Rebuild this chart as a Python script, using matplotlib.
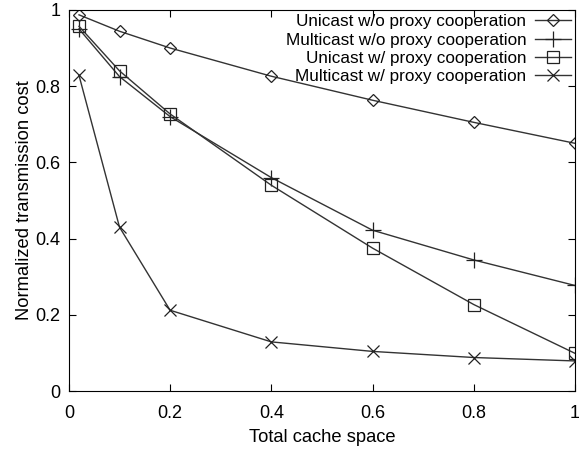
import matplotlib
matplotlib.use('Agg')
import matplotlib.pyplot as plt

plt.rcParams['font.family'] = ['Liberation Sans', 'DejaVu Sans']

cache_space = [0.02, 0.1, 0.2, 0.4, 0.6, 0.8, 1.0]
unicast_wo = [0.987, 0.944, 0.900, 0.826, 0.763, 0.705, 0.650]
multicast_wo = [0.950, 0.825, 0.720, 0.560, 0.422, 0.344, 0.277]
unicast_w = [0.957, 0.840, 0.727, 0.540, 0.375, 0.227, 0.099]
multicast_w = [0.828, 0.430, 0.212, 0.129, 0.104, 0.088, 0.079]

labels = ['Unicast w/o proxy cooperation', 'Multicast w/o proxy cooperation',
          'Unicast w/ proxy cooperation', 'Multicast w/ proxy cooperation']
markers = ['D', '+', 's', 'x']
sizes = [6.5, 11, 9, 9]
series = [unicast_wo, multicast_wo, unicast_w, multicast_w]

fig = plt.figure(figsize=(5.79, 4.5), dpi=100)
ax = fig.add_axes([0.119, 0.131, 0.874, 0.847])

for ys, lab, m, s in zip(series, labels, markers, sizes):
    ax.plot(cache_space, ys, color='#333333', lw=1.0, marker=m, ms=s,
            mfc='none', mec='#222222', mew=0.9, label=lab)

ax.set_xlim(0, 1)
ax.set_ylim(0, 1)
ax.set_xticks([0, 0.2, 0.4, 0.6, 0.8, 1])
ax.set_xticklabels(['0', '0.2', '0.4', '0.6', '0.8', '1'])
ax.set_yticks([0, 0.2, 0.4, 0.6, 0.8, 1])
ax.set_yticklabels(['0', '0.2', '0.4', '0.6', '0.8', '1'])
ax.tick_params(direction='in', top=True, right=True, labelsize=13, length=5, pad=6)
ax.tick_params(axis='x', pad=10)
ax.set_xlabel('Total cache space', fontsize=13.2, labelpad=5)
ax.set_ylabel('Normalized transmission cost', fontsize=13.2, labelpad=2)

leg = ax.legend(loc='upper right', frameon=False, markerfirst=False, fontsize=12.3,
                handlelength=2.1, handletextpad=0.5, labelspacing=0.2,
                borderaxespad=0.1, borderpad=0.15)

fig.savefig('out.png', dpi=100)
